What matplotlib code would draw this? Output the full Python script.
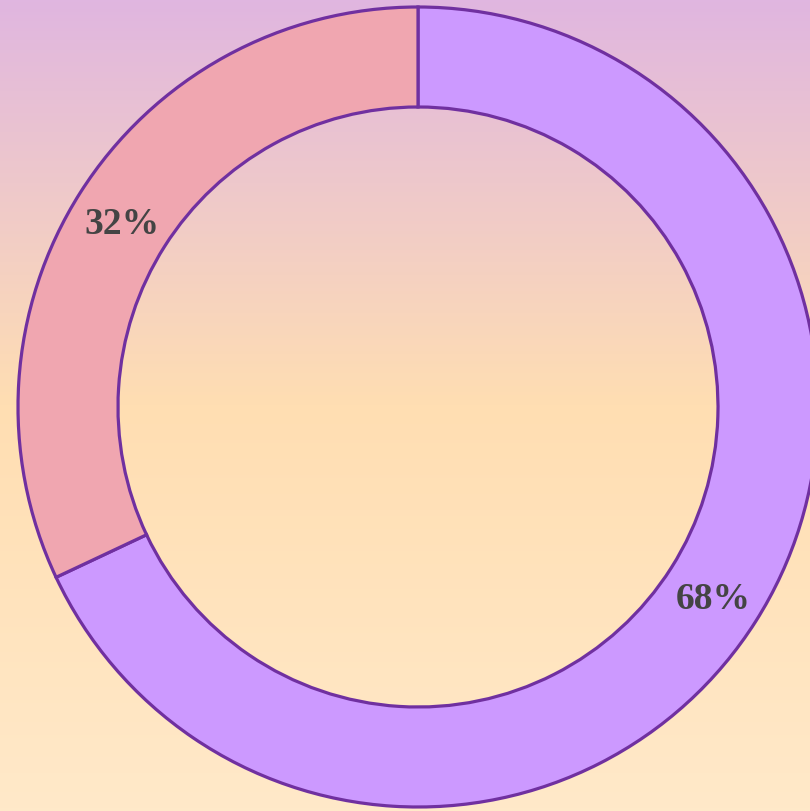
import numpy as np
import matplotlib.pyplot as plt
from matplotlib.colors import LinearSegmentedColormap

# slice data (clockwise from 12 o'clock)
shares = [68, 32]
slice_colors = ["#cc99ff", "#f0a6b0"]
edge_color = "#7030a0"

fig = plt.figure(figsize=(8.10, 8.12), dpi=100)

# gradient background
bg = fig.add_axes([0, 0, 1, 1], zorder=0)
bg.axis("off")
grad = LinearSegmentedColormap.from_list(
    "bg", [(0.0, "#e0b6e0"), (0.5, "#ffdeb2"), (1.0, "#ffe9c9")])
bg.imshow(np.linspace(0, 1, 256).reshape(-1, 1), cmap=grad, aspect="auto",
          extent=[0, 1, 0, 1], origin="upper")

ax = fig.add_axes([0, 0, 1, 1], zorder=1)
ax.set_facecolor("none")

wedges, texts, autotexts = ax.pie(
    shares, colors=slice_colors, startangle=90, counterclock=False,
    center=(418, 404), radius=400, autopct="%d%%", pctdistance=0.875,
    wedgeprops=dict(width=100, edgecolor=edge_color, linewidth=2.3),
    textprops=dict(fontsize=27, fontweight="bold", family="Liberation Serif",
                   color="#444444", va="center_baseline"), frame=True)
ax.set_xlim(0, 810)
ax.set_ylim(0, 812)
ax.set_aspect("equal")
ax.axis("off")

fig.savefig("out.png", dpi=100)
